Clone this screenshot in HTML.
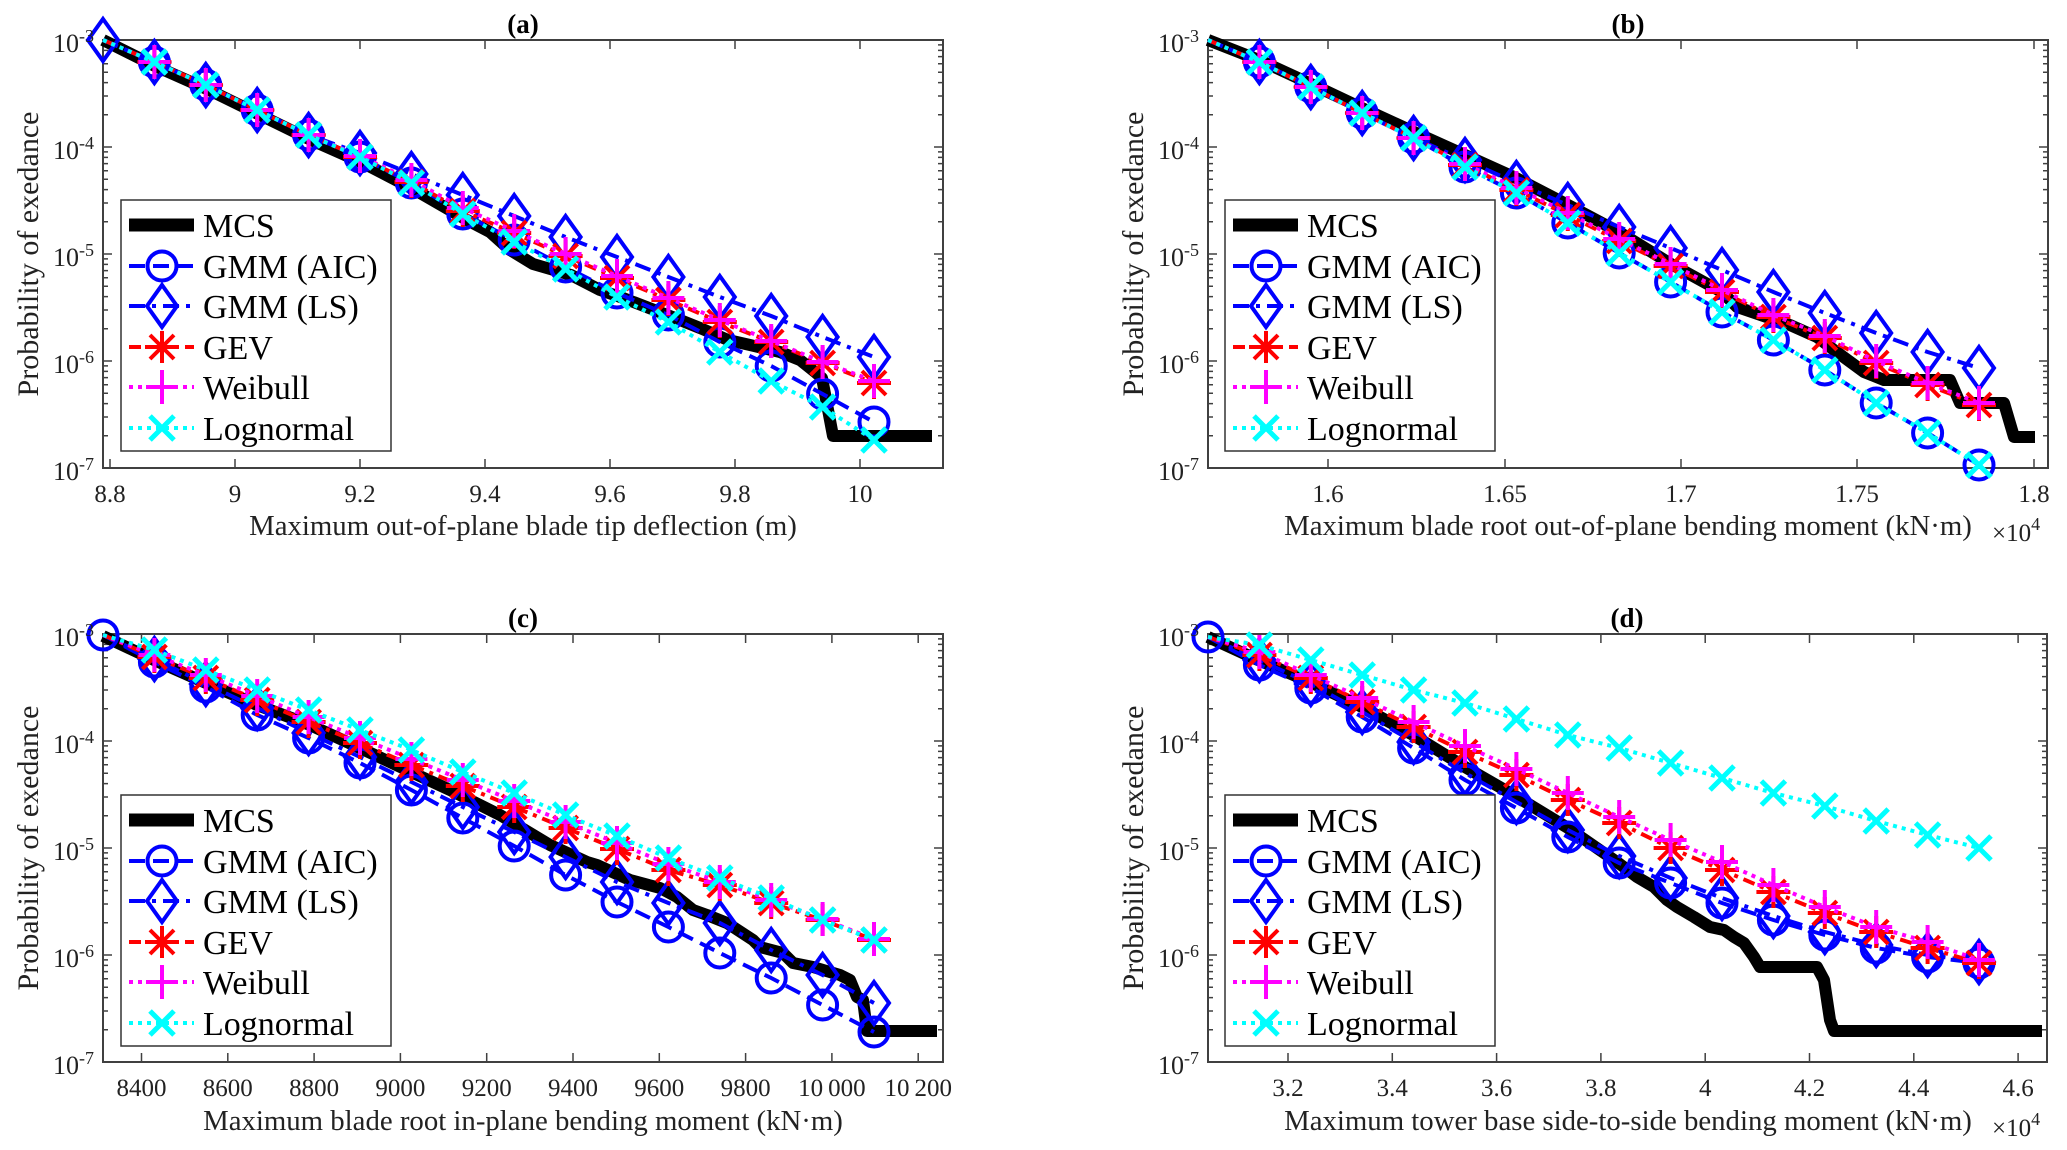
<!DOCTYPE html>
<html><head><meta charset="utf-8">
<style>
html,body{margin:0;padding:0;background:#fff;}
svg{display:block;font-family:"Liberation Serif","Times New Roman",serif;}
</style></head>
<body>
<svg width="2067" height="1150" viewBox="0 0 2067 1150" xmlns="http://www.w3.org/2000/svg">
<defs>
<marker id="mCi" markerUnits="userSpaceOnUse" markerWidth="40" markerHeight="40" refX="20" refY="20" orient="0" overflow="visible"><circle cx="20" cy="20" r="14.5" fill="none" stroke="#0000ff" stroke-width="4"/></marker>
<marker id="mDi" markerUnits="userSpaceOnUse" markerWidth="40" markerHeight="50" refX="20" refY="25" orient="0" overflow="visible"><path d="M20,4 L35,25 L20,46 L5,25Z" fill="none" stroke="#0000ff" stroke-width="4" stroke-linejoin="miter"/></marker>
<marker id="mAs" markerUnits="userSpaceOnUse" markerWidth="40" markerHeight="40" refX="20" refY="20" orient="0" overflow="visible"><path d="M3,20H37M20,4V36M8,8L32,32M8,32L32,8" stroke="#ff0000" stroke-width="4" fill="none"/></marker>
<marker id="mPl" markerUnits="userSpaceOnUse" markerWidth="40" markerHeight="40" refX="20" refY="20" orient="0" overflow="visible"><path d="M4,20H36M20,3V37" stroke="#ff00ff" stroke-width="4" fill="none"/></marker>
<marker id="mX" markerUnits="userSpaceOnUse" markerWidth="40" markerHeight="40" refX="20" refY="20" orient="0" overflow="visible"><path d="M8,8L32,32M8,32L32,8" stroke="#00ffff" stroke-width="5" fill="none"/></marker>
<path id="minL" d="M0,-32.2h5M0,-51.05h5M0,-64.42h5M0,-74.79h5M0,-83.26h5M0,-90.43h5M0,-96.63h5M0,-102.1h5" stroke="#404040" stroke-width="1.5"/>
<path id="minR" d="M0,-32.2h-5M0,-51.05h-5M0,-64.42h-5M0,-74.79h-5M0,-83.26h-5M0,-90.43h-5M0,-96.63h-5M0,-102.1h-5" stroke="#404040" stroke-width="1.5"/>
</defs>

<!-- ================= PANEL (a) ================= -->
<g>
<rect x="103" y="40" width="840" height="428" fill="#fff" stroke="#404040" stroke-width="2"/>
<path d="M103,40h9M103,147h9M103,254h9M103,361h9M103,468h9M943,40h-9M943,147h-9M943,254h-9M943,361h-9M943,468h-9" stroke="#404040" stroke-width="1.5"/>
<use href="#minL" x="103" y="468"/><use href="#minL" x="103" y="361"/><use href="#minL" x="103" y="254"/><use href="#minL" x="103" y="147"/>
<use href="#minR" x="943" y="468"/><use href="#minR" x="943" y="361"/><use href="#minR" x="943" y="254"/><use href="#minR" x="943" y="147"/>
<path d="M110,468v-9M235,468v-9M360,468v-9M485,468v-9M610,468v-9M735,468v-9M860,468v-9M110,40v9M235,40v9M360,40v9M485,40v9M610,40v9M735,40v9M860,40v9" stroke="#404040" stroke-width="1.5"/>
<polyline fill="none" stroke="#000" stroke-width="12" stroke-linejoin="round" points="103,40 155,66 209,90 260,115 311,140 363,163 415,190 467,220 490,232 510,250 533,264 571,275 600,290 623,298 675,318 700,328 728,340 750,345 780,352 800,360 815,372 822,378 833,436 932,436"/>
<polyline fill="none" stroke="#0000ff" stroke-width="4" stroke-dasharray="16,8" marker-mid="url(#mCi)" marker-end="url(#mCi)" points="103,40 154.4,62 205.8,85 257.2,110 308.6,135 360,157 411.4,183 462.8,214 514.2,240 565.6,267 617,293 668.4,315 719.8,342 771.2,366 822.6,394 874,422"/>
<polyline fill="none" stroke="#0000ff" stroke-width="4" stroke-dasharray="16,7,4,7" marker-start="url(#mDi)" marker-mid="url(#mDi)" marker-end="url(#mDi)" points="103,40 154.4,62 205.8,85 257.2,110 308.6,135 360,153 411.4,174 462.8,195 514.2,216 565.6,237 617,257 668.4,277 719.8,297 771.2,316 822.6,337 874,357"/>
<polyline fill="none" stroke="#ff0000" stroke-width="4" stroke-dasharray="12,6,4,6" marker-mid="url(#mAs)" marker-end="url(#mAs)" points="103,40 154.4,62 205.8,85 257.2,110 308.6,135 360,157 411.4,182 462.8,211 514.2,233 565.6,256 617,278 668.4,300 719.8,322 771.2,342 822.6,363 874,383"/>
<polyline fill="none" stroke="#ff00ff" stroke-width="4" stroke-dasharray="4,5" marker-mid="url(#mPl)" marker-end="url(#mPl)" points="103,40 154.4,62 205.8,85 257.2,110 308.6,135 360,156 411.4,180 462.8,208 514.2,231 565.6,254 617,276 668.4,298 719.8,320 771.2,341 822.6,362 874,381"/>
<polyline fill="none" stroke="#00ffff" stroke-width="4" stroke-dasharray="4,5" marker-mid="url(#mX)" marker-end="url(#mX)" points="103,40 154.4,62 205.8,85 257.2,110 308.6,135 360,157 411.4,183 462.8,214 514.2,242 565.6,269 617,297 668.4,322 719.8,352 771.2,381 822.6,407 874,440"/>
<rect x="121" y="200" width="270" height="251" fill="#fff" stroke="#333" stroke-width="1.5"/>
<line x1="129" y1="225" x2="194" y2="225" stroke="#000" stroke-width="13"/>
<polyline fill="none" stroke="#0000ff" stroke-width="4" stroke-dasharray="16,8" marker-mid="url(#mCi)" points="129,266 162,266 194,266"/>
<polyline fill="none" stroke="#0000ff" stroke-width="4" stroke-dasharray="16,7,4,7" marker-mid="url(#mDi)" points="129,306 162,306 194,306"/>
<polyline fill="none" stroke="#ff0000" stroke-width="4" stroke-dasharray="12,6,4,6" marker-mid="url(#mAs)" points="129,347 162,347 194,347"/>
<polyline fill="none" stroke="#ff00ff" stroke-width="4" stroke-dasharray="4,5" marker-mid="url(#mPl)" points="129,387 162,387 194,387"/>
<polyline fill="none" stroke="#00ffff" stroke-width="4" stroke-dasharray="4,5" marker-mid="url(#mX)" points="129,428 162,428 194,428"/>
<g font-size="34" fill="#000">
<text x="203" y="237">MCS</text><text x="203" y="278">GMM (AIC)</text><text x="203" y="318">GMM (LS)</text><text x="203" y="359">GEV</text><text x="203" y="399">Weibull</text><text x="203" y="440">Lognormal</text>
</g>
<g font-size="26" fill="#222">
<text x="53" y="52">10<tspan font-size="18" dy="-10">-3</tspan></text>
<text x="53" y="159">10<tspan font-size="18" dy="-10">-4</tspan></text>
<text x="53" y="266">10<tspan font-size="18" dy="-10">-5</tspan></text>
<text x="53" y="373">10<tspan font-size="18" dy="-10">-6</tspan></text>
<text x="53" y="480">10<tspan font-size="18" dy="-10">-7</tspan></text>
</g>
<g font-size="25" fill="#222" text-anchor="middle">
<text x="110" y="502">8.8</text><text x="235" y="502">9</text><text x="360" y="502">9.2</text><text x="485" y="502">9.4</text><text x="610" y="502">9.6</text><text x="735" y="502">9.8</text><text x="860" y="502">10</text>
</g>
<text x="523" y="535" font-size="28.8" text-anchor="middle" fill="#222">Maximum out-of-plane blade tip deflection (m)</text>
<text transform="translate(38,254) rotate(-90)" font-size="30" text-anchor="middle" fill="#222">Probability of exedance</text>
<text x="523" y="33" font-size="27" font-weight="bold" text-anchor="middle">(a)</text>
</g>

<!-- ================= PANEL (b) ================= -->
<g>
<rect x="1208" y="40" width="840" height="428" fill="#fff" stroke="#404040" stroke-width="2"/>
<path d="M1208,40h9M1208,147h9M1208,254h9M1208,361h9M1208,468h9M2048,40h-9M2048,147h-9M2048,254h-9M2048,361h-9M2048,468h-9" stroke="#404040" stroke-width="1.5"/>
<use href="#minL" x="1208" y="468"/><use href="#minL" x="1208" y="361"/><use href="#minL" x="1208" y="254"/><use href="#minL" x="1208" y="147"/>
<use href="#minR" x="2048" y="468"/><use href="#minR" x="2048" y="361"/><use href="#minR" x="2048" y="254"/><use href="#minR" x="2048" y="147"/>
<path d="M1328,468v-9M1505,468v-9M1681,468v-9M1857,468v-9M2034,468v-9M1328,40v9M1505,40v9M1681,40v9M1857,40v9M2034,40v9" stroke="#404040" stroke-width="1.5"/>
<polyline fill="none" stroke="#000" stroke-width="12" stroke-linejoin="round" points="1208,40 1259,60 1311,84 1362,108 1414,132 1465,155 1516,178 1568,205 1619,232 1671,264 1722,292 1737,307 1790,325 1817,337 1834,350 1864,372 1884,380 1950,380 1960,403 2004,403 2014,437 2035,437"/>
<polyline fill="none" stroke="#0000ff" stroke-width="4" stroke-dasharray="16,8" marker-mid="url(#mCi)" marker-end="url(#mCi)" points="1208,40 1259.4,62 1310.8,87 1362.2,113 1413.6,138 1465,167 1516.4,193 1567.8,223 1619.2,253 1670.6,282 1722,312 1773.4,340 1824.8,370 1876.2,403 1927.6,433 1979,465"/>
<polyline fill="none" stroke="#0000ff" stroke-width="4" stroke-dasharray="16,7,4,7" marker-mid="url(#mDi)" marker-end="url(#mDi)" points="1208,40 1259.4,62 1310.8,87 1362.2,113 1413.6,138 1465,160 1516.4,183 1567.8,205 1619.2,227 1670.6,248 1722,270 1773.4,292 1824.8,313 1876.2,333 1927.6,352 1979,368"/>
<polyline fill="none" stroke="#ff0000" stroke-width="4" stroke-dasharray="12,6,4,6" marker-mid="url(#mAs)" marker-end="url(#mAs)" points="1208,40 1259.4,62 1310.8,87 1362.2,113 1413.6,138 1465,165 1516.4,190 1567.8,215 1619.2,241 1670.6,266 1722,292 1773.4,317 1824.8,338 1876.2,363 1927.6,385 1979,405"/>
<polyline fill="none" stroke="#ff00ff" stroke-width="4" stroke-dasharray="4,5" marker-mid="url(#mPl)" marker-end="url(#mPl)" points="1208,40 1259.4,62 1310.8,87 1362.2,113 1413.6,138 1465,164 1516.4,188 1567.8,213 1619.2,239 1670.6,264 1722,290 1773.4,315 1824.8,336 1876.2,361 1927.6,383 1979,403"/>
<polyline fill="none" stroke="#00ffff" stroke-width="4" stroke-dasharray="4,5" marker-mid="url(#mX)" marker-end="url(#mX)" points="1208,40 1259.4,62 1310.8,87 1362.2,113 1413.6,138 1465,167 1516.4,193 1567.8,223 1619.2,253 1670.6,282 1722,312 1773.4,340 1824.8,370 1876.2,403 1927.6,433 1979,465"/>
<rect x="1225" y="200" width="270" height="251" fill="#fff" stroke="#333" stroke-width="1.5"/>
<line x1="1233" y1="225" x2="1298" y2="225" stroke="#000" stroke-width="13"/>
<polyline fill="none" stroke="#0000ff" stroke-width="4" stroke-dasharray="16,8" marker-mid="url(#mCi)" points="1233,266 1266,266 1298,266"/>
<polyline fill="none" stroke="#0000ff" stroke-width="4" stroke-dasharray="16,7,4,7" marker-mid="url(#mDi)" points="1233,306 1266,306 1298,306"/>
<polyline fill="none" stroke="#ff0000" stroke-width="4" stroke-dasharray="12,6,4,6" marker-mid="url(#mAs)" points="1233,347 1266,347 1298,347"/>
<polyline fill="none" stroke="#ff00ff" stroke-width="4" stroke-dasharray="4,5" marker-mid="url(#mPl)" points="1233,387 1266,387 1298,387"/>
<polyline fill="none" stroke="#00ffff" stroke-width="4" stroke-dasharray="4,5" marker-mid="url(#mX)" points="1233,428 1266,428 1298,428"/>
<g font-size="34" fill="#000">
<text x="1307" y="237">MCS</text><text x="1307" y="278">GMM (AIC)</text><text x="1307" y="318">GMM (LS)</text><text x="1307" y="359">GEV</text><text x="1307" y="399">Weibull</text><text x="1307" y="440">Lognormal</text>
</g>
<g font-size="26" fill="#222">
<text x="1158" y="52">10<tspan font-size="18" dy="-10">-3</tspan></text>
<text x="1158" y="159">10<tspan font-size="18" dy="-10">-4</tspan></text>
<text x="1158" y="266">10<tspan font-size="18" dy="-10">-5</tspan></text>
<text x="1158" y="373">10<tspan font-size="18" dy="-10">-6</tspan></text>
<text x="1158" y="480">10<tspan font-size="18" dy="-10">-7</tspan></text>
</g>
<g font-size="25" fill="#222" text-anchor="middle">
<text x="1328" y="502">1.6</text><text x="1505" y="502">1.65</text><text x="1681" y="502">1.7</text><text x="1857" y="502">1.75</text><text x="2034" y="502">1.8</text>
</g>
<text x="1992" y="541" font-size="25" fill="#222">×10<tspan font-size="18" dy="-11">4</tspan></text>
<text x="1628" y="535" font-size="28.8" text-anchor="middle" fill="#222">Maximum blade root out-of-plane bending moment (kN·m)</text>
<text transform="translate(1143,254) rotate(-90)" font-size="30" text-anchor="middle" fill="#222">Probability of exedance</text>
<text x="1628" y="33" font-size="27" font-weight="bold" text-anchor="middle">(b)</text>
</g>

<!-- ================= PANEL (c) ================= -->
<g>
<rect x="103" y="634" width="840" height="428" fill="#fff" stroke="#404040" stroke-width="2"/>
<path d="M103,634h9M103,741h9M103,848h9M103,955h9M103,1062h9M943,634h-9M943,741h-9M943,848h-9M943,955h-9M943,1062h-9" stroke="#404040" stroke-width="1.5"/>
<use href="#minL" x="103" y="1062"/><use href="#minL" x="103" y="955"/><use href="#minL" x="103" y="848"/><use href="#minL" x="103" y="741"/>
<use href="#minR" x="943" y="1062"/><use href="#minR" x="943" y="955"/><use href="#minR" x="943" y="848"/><use href="#minR" x="943" y="741"/>
<path d="M141.5,1062v-9M227.8,1062v-9M314.1,1062v-9M400.4,1062v-9M486.7,1062v-9M573,1062v-9M659.3,1062v-9M745.6,1062v-9M831.9,1062v-9M918.2,1062v-9M141.5,634v9M227.8,634v9M314.1,634v9M400.4,634v9M486.7,634v9M573,634v9M659.3,634v9M745.6,634v9M831.9,634v9M918.2,634v9" stroke="#404040" stroke-width="1.5"/>
<polyline fill="none" stroke="#000" stroke-width="12" stroke-linejoin="round" points="103,636 154,660 206,683 257,705 310,725 360,748 411,772 450,790 500,815 550,845 587,862 597,865 630,880 660,888 677,897 693,910 707,915 727,923 753,940 760,947 783,953 793,963 813,967 840,975 850,980 857,997 863,1000 867,1031 937,1031"/>
<polyline fill="none" stroke="#0000ff" stroke-width="4" stroke-dasharray="16,8" marker-start="url(#mCi)" marker-mid="url(#mCi)" marker-end="url(#mCi)" points="103,635 154.4,662 205.8,687 257.2,715 308.6,738 360,763 411.4,790 462.8,818 514.2,846 565.6,875 617,902 668.4,927 719.8,953 771.2,978 822.6,1005 874,1032"/>
<polyline fill="none" stroke="#0000ff" stroke-width="4" stroke-dasharray="16,7,4,7" marker-mid="url(#mDi)" marker-end="url(#mDi)" points="103,635 154.4,659 205.8,684 257.2,708 308.6,733 360,757 411.4,782 462.8,807 514.2,832 565.6,857 617,882 668.4,903 719.8,923 771.2,950 822.6,975 874,1003"/>
<polyline fill="none" stroke="#ff0000" stroke-width="4" stroke-dasharray="12,6,4,6" marker-mid="url(#mAs)" marker-end="url(#mAs)" points="103,635 154.4,657 205.8,678 257.2,700 308.6,722 360,743 411.4,765 462.8,786 514.2,807 565.6,828 617,849 668.4,870 719.8,885 771.2,903 822.6,920 874,940"/>
<polyline fill="none" stroke="#ff00ff" stroke-width="4" stroke-dasharray="4,5" marker-mid="url(#mPl)" marker-end="url(#mPl)" points="103,635 154.4,655 205.8,675 257.2,696 308.6,717 360,738 411.4,759 462.8,780 514.2,801 565.6,822 617,843 668.4,864 719.8,882 771.2,900 822.6,919 874,939"/>
<polyline fill="none" stroke="#00ffff" stroke-width="4" stroke-dasharray="4,5" marker-mid="url(#mX)" marker-end="url(#mX)" points="103,635 154.4,650 205.8,670 257.2,690 308.6,710 360,730 411.4,750 462.8,772 514.2,793 565.6,815 617,836 668.4,858 719.8,878 771.2,898 822.6,920 874,940"/>
<rect x="121" y="795" width="270" height="251" fill="#fff" stroke="#333" stroke-width="1.5"/>
<line x1="129" y1="820" x2="194" y2="820" stroke="#000" stroke-width="13"/>
<polyline fill="none" stroke="#0000ff" stroke-width="4" stroke-dasharray="16,8" marker-mid="url(#mCi)" points="129,861 162,861 194,861"/>
<polyline fill="none" stroke="#0000ff" stroke-width="4" stroke-dasharray="16,7,4,7" marker-mid="url(#mDi)" points="129,901 162,901 194,901"/>
<polyline fill="none" stroke="#ff0000" stroke-width="4" stroke-dasharray="12,6,4,6" marker-mid="url(#mAs)" points="129,942 162,942 194,942"/>
<polyline fill="none" stroke="#ff00ff" stroke-width="4" stroke-dasharray="4,5" marker-mid="url(#mPl)" points="129,982 162,982 194,982"/>
<polyline fill="none" stroke="#00ffff" stroke-width="4" stroke-dasharray="4,5" marker-mid="url(#mX)" points="129,1023 162,1023 194,1023"/>
<g font-size="34" fill="#000">
<text x="203" y="832">MCS</text><text x="203" y="873">GMM (AIC)</text><text x="203" y="913">GMM (LS)</text><text x="203" y="954">GEV</text><text x="203" y="994">Weibull</text><text x="203" y="1035">Lognormal</text>
</g>
<g font-size="26" fill="#222">
<text x="53" y="646">10<tspan font-size="18" dy="-10">-3</tspan></text>
<text x="53" y="753">10<tspan font-size="18" dy="-10">-4</tspan></text>
<text x="53" y="860">10<tspan font-size="18" dy="-10">-5</tspan></text>
<text x="53" y="967">10<tspan font-size="18" dy="-10">-6</tspan></text>
<text x="53" y="1074">10<tspan font-size="18" dy="-10">-7</tspan></text>
</g>
<g font-size="25" fill="#222" text-anchor="middle">
<text x="141.5" y="1096">8400</text><text x="227.8" y="1096">8600</text><text x="314.1" y="1096">8800</text><text x="400.4" y="1096">9000</text><text x="486.7" y="1096">9200</text><text x="573" y="1096">9400</text><text x="659.3" y="1096">9600</text><text x="745.6" y="1096">9800</text><text x="831.9" y="1096">10&#8201;000</text><text x="918.2" y="1096">10&#8201;200</text>
</g>
<text x="523" y="1130" font-size="28.8" text-anchor="middle" fill="#222">Maximum blade root in-plane bending moment (kN·m)</text>
<text transform="translate(38,848) rotate(-90)" font-size="30" text-anchor="middle" fill="#222">Probability of exedance</text>
<text x="523" y="627" font-size="27" font-weight="bold" text-anchor="middle">(c)</text>
</g>

<!-- ================= PANEL (d) ================= -->
<g>
<rect x="1208" y="634" width="839" height="428" fill="#fff" stroke="#404040" stroke-width="2"/>
<path d="M1208,634h9M1208,741h9M1208,848h9M1208,955h9M1208,1062h9M2047,634h-9M2047,741h-9M2047,848h-9M2047,955h-9M2047,1062h-9" stroke="#404040" stroke-width="1.5"/>
<use href="#minL" x="1208" y="1062"/><use href="#minL" x="1208" y="955"/><use href="#minL" x="1208" y="848"/><use href="#minL" x="1208" y="741"/>
<use href="#minR" x="2047" y="1062"/><use href="#minR" x="2047" y="955"/><use href="#minR" x="2047" y="848"/><use href="#minR" x="2047" y="741"/>
<path d="M1288,1062v-9M1392.3,1062v-9M1496.6,1062v-9M1600.9,1062v-9M1705.2,1062v-9M1809.5,1062v-9M1913.8,1062v-9M2018.1,1062v-9M1288,634v9M1392.3,634v9M1496.6,634v9M1600.9,634v9M1705.2,634v9M1809.5,634v9M1913.8,634v9M2018.1,634v9" stroke="#404040" stroke-width="1.5"/>
<polyline fill="none" stroke="#000" stroke-width="12" stroke-linejoin="round" points="1208,637 1258,660 1310,682 1362,707 1413,735 1465,767 1517,797 1568,828 1617,862 1637,877 1654,887 1667,900 1677,907 1694,917 1710,927 1724,930 1734,937 1744,943 1754,957 1760,967 1817,967 1824,980 1830,1020 1834,1031 2042,1031"/>
<polyline fill="none" stroke="#0000ff" stroke-width="4" stroke-dasharray="16,8" marker-start="url(#mCi)" marker-mid="url(#mCi)" marker-end="url(#mCi)" points="1208,637 1259.4,665 1310.8,688 1362.2,717 1413.6,748 1465,780 1516.4,808 1567.8,837 1619.2,863 1670.6,883 1722,903 1773.4,920 1824.8,935 1876.2,948 1927.6,957 1979,963"/>
<polyline fill="none" stroke="#0000ff" stroke-width="4" stroke-dasharray="16,7,4,7" marker-mid="url(#mDi)" marker-end="url(#mDi)" points="1208,637 1259.4,660 1310.8,684 1362.2,712 1413.6,742 1465,773 1516.4,802 1567.8,830 1619.2,856 1670.6,878 1722,898 1773.4,916 1824.8,932 1876.2,945 1927.6,955 1979,962"/>
<polyline fill="none" stroke="#ff0000" stroke-width="4" stroke-dasharray="12,6,4,6" marker-mid="url(#mAs)" marker-end="url(#mAs)" points="1208,637 1259.4,655 1310.8,678 1362.2,702 1413.6,727 1465,752 1516.4,775 1567.8,800 1619.2,823 1670.6,848 1722,870 1773.4,892 1824.8,913 1876.2,932 1927.6,948 1979,963"/>
<polyline fill="none" stroke="#ff00ff" stroke-width="4" stroke-dasharray="4,5" marker-mid="url(#mPl)" marker-end="url(#mPl)" points="1208,637 1259.4,652 1310.8,675 1362.2,698 1413.6,722 1465,746 1516.4,769 1567.8,793 1619.2,817 1670.6,840 1722,862 1773.4,885 1824.8,907 1876.2,927 1927.6,942 1979,960"/>
<polyline fill="none" stroke="#00ffff" stroke-width="4" stroke-dasharray="4,5" marker-mid="url(#mX)" marker-end="url(#mX)" points="1208,637 1259.4,645 1310.8,660 1362.2,675 1413.6,690 1465,703 1516.4,719 1567.8,735 1619.2,748 1670.6,763 1722,778 1773.4,793 1824.8,806 1876.2,821 1927.6,835 1979,848"/>
<rect x="1225" y="795" width="270" height="251" fill="#fff" stroke="#333" stroke-width="1.5"/>
<line x1="1233" y1="820" x2="1298" y2="820" stroke="#000" stroke-width="13"/>
<polyline fill="none" stroke="#0000ff" stroke-width="4" stroke-dasharray="16,8" marker-mid="url(#mCi)" points="1233,861 1266,861 1298,861"/>
<polyline fill="none" stroke="#0000ff" stroke-width="4" stroke-dasharray="16,7,4,7" marker-mid="url(#mDi)" points="1233,901 1266,901 1298,901"/>
<polyline fill="none" stroke="#ff0000" stroke-width="4" stroke-dasharray="12,6,4,6" marker-mid="url(#mAs)" points="1233,942 1266,942 1298,942"/>
<polyline fill="none" stroke="#ff00ff" stroke-width="4" stroke-dasharray="4,5" marker-mid="url(#mPl)" points="1233,982 1266,982 1298,982"/>
<polyline fill="none" stroke="#00ffff" stroke-width="4" stroke-dasharray="4,5" marker-mid="url(#mX)" points="1233,1023 1266,1023 1298,1023"/>
<g font-size="34" fill="#000">
<text x="1307" y="832">MCS</text><text x="1307" y="873">GMM (AIC)</text><text x="1307" y="913">GMM (LS)</text><text x="1307" y="954">GEV</text><text x="1307" y="994">Weibull</text><text x="1307" y="1035">Lognormal</text>
</g>
<g font-size="26" fill="#222">
<text x="1158" y="646">10<tspan font-size="18" dy="-10">-3</tspan></text>
<text x="1158" y="753">10<tspan font-size="18" dy="-10">-4</tspan></text>
<text x="1158" y="860">10<tspan font-size="18" dy="-10">-5</tspan></text>
<text x="1158" y="967">10<tspan font-size="18" dy="-10">-6</tspan></text>
<text x="1158" y="1074">10<tspan font-size="18" dy="-10">-7</tspan></text>
</g>
<g font-size="25" fill="#222" text-anchor="middle">
<text x="1288" y="1096">3.2</text><text x="1392.3" y="1096">3.4</text><text x="1496.6" y="1096">3.6</text><text x="1600.9" y="1096">3.8</text><text x="1705.2" y="1096">4</text><text x="1809.5" y="1096">4.2</text><text x="1913.8" y="1096">4.4</text><text x="2018.1" y="1096">4.6</text>
</g>
<text x="1992" y="1136" font-size="25" fill="#222">×10<tspan font-size="18" dy="-11">4</tspan></text>
<text x="1628" y="1130" font-size="28.8" text-anchor="middle" fill="#222">Maximum tower base side-to-side bending moment (kN·m)</text>
<text transform="translate(1143,848) rotate(-90)" font-size="30" text-anchor="middle" fill="#222">Probability of exedance</text>
<text x="1627" y="627" font-size="27" font-weight="bold" text-anchor="middle">(d)</text>
</g>
</svg>
</body></html>
